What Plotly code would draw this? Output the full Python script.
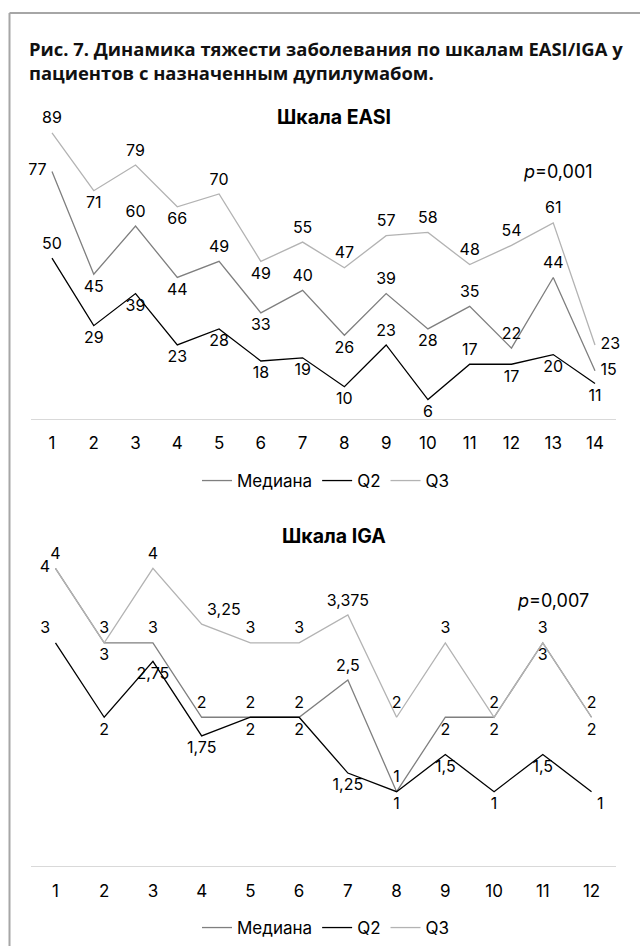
import plotly.graph_objects as go

# ---------------- data ----------------
easi_x = list(range(1, 15))
easi_median = [77, 45, 60, 44, 49, 33, 40, 26, 39, 28, 35, 22, 44, 15]
easi_q2 = [50, 29, 39, 23, 28, 18, 19, 10, 23, 6, 17, 17, 20, 11]
easi_q3 = [89, 71, 79, 66, 70, 49, 55, 47, 57, 58, 48, 54, 61, 23]

iga_x = list(range(1, 13))
iga_median = [4, 3, 3, 2, 2, 2, 2.5, 1, 2, 2, 3, 2]
iga_q2 = [3, 2, 2.75, 1.75, 2, 2, 1.25, 1, 1.5, 1, 1.5, 1]
iga_q3 = [4, 3, 4, 3.25, 3, 3, 3.375, 2, 3, 2, 3, 2]

series_names = ["Медиана", "Q2", "Q3"]
title_main_1 = "Рис. 7. Динамика тяжести заболевания по шкалам EASI/IGA у"
title_main_2 = "пациентов с назначенным дупилумабом."
title_easi = "Шкала EASI"
title_iga = "Шкала IGA"
p_easi = "<i>p</i>=0,001"
p_iga = "<i>p</i>=0,007"

# label placement (style)
easi_med_pos = ['middle left', 'bottom center', 'top center', 'bottom center', 'top center', 'bottom center',
                'top center', 'bottom center', 'top center', 'bottom center', 'top center', 'top center',
                'top center', 'middle right']
easi_q2_pos = ['top center', 'bottom center', 'bottom center', 'bottom center', 'bottom center', 'bottom center',
               'bottom center', 'bottom center', 'top center', 'bottom center', 'top center', 'bottom center',
               'bottom center', 'bottom center']
easi_q3_pos = ['top center', 'bottom center', 'top center', 'bottom center', 'top center', 'bottom center',
               'top center', 'top center', 'top center', 'top center', 'top center', 'top center',
               'top center', 'middle right']
iga_med_pos = ['middle left', 'bottom center', 'top center', 'top center', 'top center', 'top center',
               'top center', 'top center', 'bottom center', 'bottom center', 'bottom center', 'bottom center']
iga_q2_pos = ['top left', 'bottom center', 'bottom center', 'bottom center', 'bottom center', 'bottom center',
              'bottom center', 'bottom center', 'bottom center', 'bottom center', 'bottom center', 'bottom right']
iga_q3_pos = ['top center', 'top center', 'top center', 'top right', 'top center', 'top center',
              'top center', 'top center', 'top center', 'top center', 'top center', 'top center']

colors = {"Медиана": "#7f7f7f", "Q2": "#000000", "Q3": "#b3b3b3"}
FONT = "Inter, Liberation Sans, Arial, sans-serif"
LBL = 16

W, H = 640, 946


def py(p):
    return 1 - p / H


def px(p):
    return p / W


def fmt(v):
    return f"{v:g}".replace('.', ',')


fig = go.Figure()


def add(xs, ys, name, pos, xa, ya, legend):
    fig.add_trace(go.Scatter(
        x=xs, y=ys, name=name, mode="lines+markers+text",
        line=dict(color=colors[name], width=1.3),
        marker=dict(size=7, color="rgba(0,0,0,0)"),
        text=[fmt(v) for v in ys], textposition=pos,
        textfont=dict(family=FONT, size=LBL, color="#000"),
        xaxis=xa, yaxis=ya, legend=legend, cliponaxis=False,
        hoverinfo="skip"))


add(easi_x, easi_median, "Медиана", easi_med_pos, "x", "y", "legend")
add(easi_x, easi_q2, "Q2", easi_q2_pos, "x", "y", "legend")
add(easi_x, easi_q3, "Q3", easi_q3_pos, "x", "y", "legend")
add(iga_x, iga_median, "Медиана", iga_med_pos, "x2", "y2", "legend2")
add(iga_x, iga_q2, "Q2", iga_q2_pos, "x2", "y2", "legend2")
add(iga_x, iga_q3, "Q3", iga_q3_pos, "x2", "y2", "legend2")

xdom = [px(31.1), px(615.9)]
axis_common = dict(showline=True, linecolor="#d9d9d9", linewidth=1.2, showgrid=False, zeroline=False,
                   ticks="", ticklabelstandoff=9,
                   tickfont=dict(family=FONT, size=17, color="#000"), fixedrange=True)

legend_common = dict(orientation="h", x=px(326), xanchor="center", yanchor="middle",
                     font=dict(family=FONT, size=17, color="#000"), bgcolor="rgba(0,0,0,0)",
                     itemwidth=30)

fig.update_layout(
    width=W, height=H, margin=dict(l=0, r=0, t=0, b=0),
    paper_bgcolor="white", plot_bgcolor="white",
    xaxis=dict(domain=xdom, range=[0.5, 14.5], tickvals=easi_x, ticktext=[str(v) for v in easi_x],
               anchor="y", **axis_common),
    yaxis=dict(domain=[py(419.3), py(97.6)], range=[0, 100], visible=False, fixedrange=True, anchor="x"),
    xaxis2=dict(domain=xdom, range=[0.5, 12.5], tickvals=iga_x, ticktext=[str(v) for v in iga_x],
                anchor="y2", **axis_common),
    yaxis2=dict(domain=[py(867), py(494.5)], range=[0, 5], visible=False, fixedrange=True, anchor="x2"),
    legend=dict(y=py(481), **legend_common),
    legend2=dict(y=py(929), **legend_common),
    showlegend=True,
)

ann_font_title = dict(family="Open Sans, Noto Sans, sans-serif", size=18.4, color="#111")
fig.add_annotation(text="<b>" + title_main_1 + "</b>", x=px(26.5), y=py(48.5), xref="paper", yref="paper",
                   xanchor="left", yanchor="middle", showarrow=False, font=ann_font_title)
fig.add_annotation(text="<b>" + title_main_2 + "</b>", x=px(26.5), y=py(72.5), xref="paper", yref="paper",
                   xanchor="left", yanchor="middle", showarrow=False, font=ann_font_title)
sub_font = dict(family=FONT, size=19.5, color="#000")
fig.add_annotation(text="<b>" + title_easi + "</b>", x=px(334), y=py(117), xref="paper", yref="paper",
                   xanchor="center", yanchor="middle", showarrow=False, font=sub_font)
fig.add_annotation(text="<b>" + title_iga + "</b>", x=px(334), y=py(537), xref="paper", yref="paper",
                   xanchor="center", yanchor="middle", showarrow=False, font=sub_font)
p_font = dict(family=FONT, size=18, color="#000")
fig.add_annotation(text=p_easi, x=px(558), y=py(172), xref="paper", yref="paper",
                   xanchor="center", yanchor="middle", showarrow=False, font=p_font)
fig.add_annotation(text=p_iga, x=px(553), y=py(601), xref="paper", yref="paper",
                   xanchor="center", yanchor="middle", showarrow=False, font=p_font)

# outer frame (top and left edges visible)
fig.add_shape(type="line", xref="paper", yref="paper", x0=px(9.5), x1=1.01, y0=py(13), y1=py(13),
              line=dict(color="#a6a6a6", width=2))
fig.add_shape(type="line", xref="paper", yref="paper", x0=px(9.5), x1=px(9.5), y0=py(13), y1=-0.01,
              line=dict(color="#a6a6a6", width=2))

fig.write_html("out.html")
